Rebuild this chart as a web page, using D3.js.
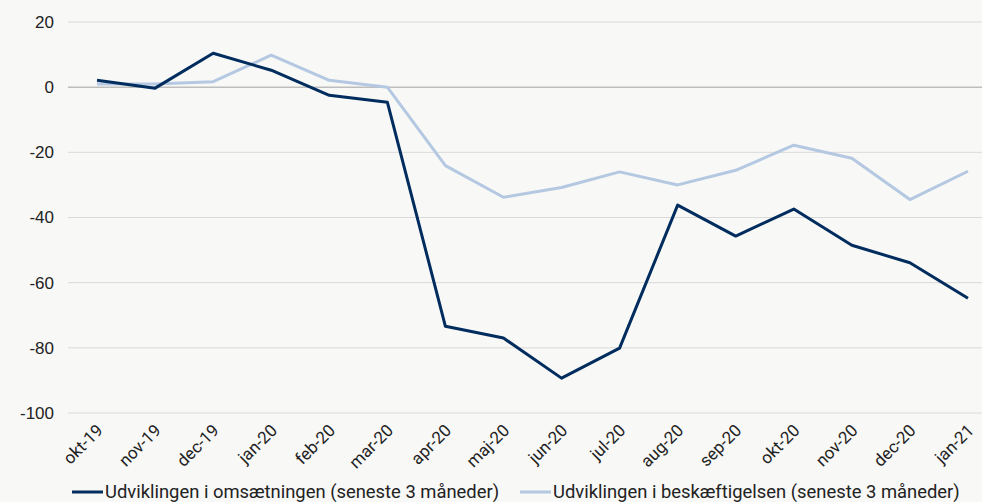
<!DOCTYPE html>
<html>
<head>
  <meta charset="utf-8">
  <title>Udvikling i omsætning og beskæftigelse</title>
  <style>
    body { margin: 0; background: #f8f8f7; }
    svg { display: block; background: #f8f8f7; }
  </style>
</head>
<body>
  <svg width="982" height="502"></svg>
  <script src="https://d3js.org/d3.v7.min.js"></script>
  <script>

  // data
  var months = ["okt-19", "nov-19", "dec-19", "jan-20", "feb-20", "mar-20", "apr-20", "maj-20",
                "jun-20", "jul-20", "aug-20", "sep-20", "okt-20", "nov-20", "dec-20", "jan-21"];
  var omsaetning = [2.1, -0.3, 10.4, 5.2, -2.5, -4.6, -73.4, -77.0,
                    -89.3, -80.1, -36.2, -45.7, -37.4, -48.5, -53.9, -64.8];
  var beskaeftigelse = [1.0, 1.0, 1.7, 9.8, 2.1, 0.0, -24.1, -33.8,
                        -30.8, -26.0, -30.0, -25.5, -17.8, -21.8, -34.5, -25.8];
  var yTicks = [20, 0, -20, -40, -60, -80, -100];
  var seriesNames = ["Udviklingen i omsætningen (seneste 3 måneder)",
                     "Udviklingen i beskæftigelsen (seneste 3 måneder)"];
  var colors = ["#002c5e", "#b4c8e1"];

  var svg = d3.select("svg");
  var plotLeft = 68, plotRight = 997, plotTop = 22, plotBottom = 413;

  var x = d3.scalePoint().domain(months).range([plotLeft, plotRight]).padding(0.5);
  var y = d3.scaleLinear().domain([-100, 20]).range([plotBottom, plotTop]);

  // gridlines
  svg.append("g")
    .selectAll("line")
    .data(yTicks)
    .enter()
    .append("line")
    .attr("x1", plotLeft)
    .attr("x2", 982)
    .attr("y1", function(d) { return y(d); })
    .attr("y2", function(d) { return y(d); })
    .attr("stroke", function(d) { return d === 0 ? "#bdbdbd" : "#dadada"; })
    .attr("stroke-width", function(d) { return d === 0 ? 1.5 : 1; });

  // y axis labels (plain hyphen as minus, like the original)
  var yAxis = svg.append("g")
    .attr("transform", "translate(" + 54 + ",0)")
    .call(d3.axisLeft(y).tickValues(yTicks).tickSize(0).tickPadding(0)
      .tickFormat(function(d) { return String(d); }));
  yAxis.select(".domain").remove();
  yAxis.selectAll("text")
    .attr("font-family", "Liberation Sans, Arial, sans-serif")
    .attr("font-size", 17)
    .attr("fill", "#222");

  // x axis labels
  var xAxis = svg.append("g")
    .attr("transform", "translate(0," + 423 + ")")
    .call(d3.axisBottom(x).tickSize(0).tickPadding(0));
  xAxis.select(".domain").remove();
  xAxis.selectAll("text")
    .attr("font-family", "Roboto, sans-serif")
    .attr("font-size", 17)
    .attr("fill", "#222")
    .attr("text-anchor", "end")
    .attr("dy", "0.7em")
    .attr("transform", "translate(-2,0) rotate(-45)");

  // lines
  var line = d3.line()
    .x(function(d, i) { return x(months[i]); })
    .y(function(d) { return y(d); });

  [beskaeftigelse, omsaetning].forEach(function(s, k) {
    svg.append("path")
      .datum(s)
      .attr("fill", "none")
      .attr("stroke", k === 0 ? colors[1] : colors[0])
      .attr("stroke-width", 3)
      .attr("stroke-linejoin", "round")
      .attr("d", line);
  });

  // legend
  var legendPos = [72, 520];
  var lg = svg.append("g")
    .selectAll("g")
    .data(seriesNames)
    .enter()
    .append("g")
    .attr("transform", function(d, i) { return "translate(" + legendPos[i] + ",492)"; });
  lg.append("line")
    .attr("x1", 0).attr("x2", 31)
    .attr("stroke", function(d, i) { return colors[i]; })
    .attr("stroke-width", 3);
  lg.append("text")
    .attr("x", 33)
    .attr("dy", "0.35em")
    .attr("font-family", "Roboto, sans-serif")
    .attr("font-size", 18.4)
    .attr("fill", "#222")
    .text(function(d) { return d; });
  </script>
</body>
</html>
